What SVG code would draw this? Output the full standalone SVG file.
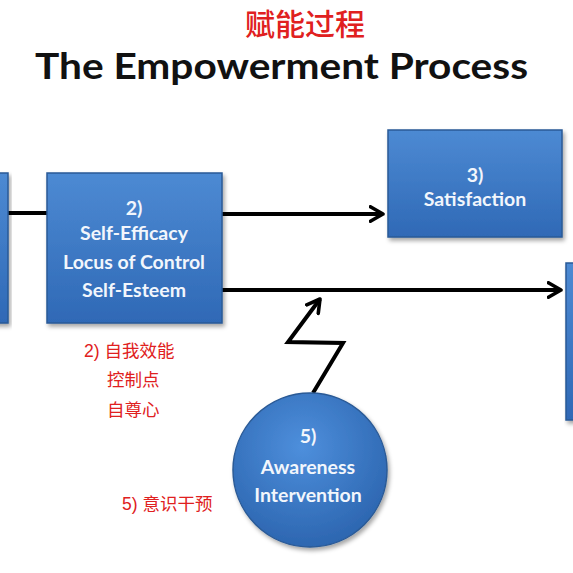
<svg xmlns="http://www.w3.org/2000/svg" width="573" height="573" viewBox="0 0 573 573">
<style>
.box{fill:url(#bg);stroke:#2a5a96;stroke-width:1.5;filter:url(#sh)}
.wt{font-family:Lato,"Open Sans","Liberation Sans",sans-serif;font-weight:bold;font-size:19.5px;fill:#f2f6fc;text-anchor:middle}
.red{font-family:"Liberation Sans","Noto Sans CJK SC",sans-serif;font-size:17.5px;fill:#e02020}
.ln{fill:none;stroke:#000;stroke-width:4}
</style>
<defs>
<linearGradient id="bg" x1="0" y1="0" x2="0" y2="1">
<stop offset="0" stop-color="#4d8ad3"/>
<stop offset="1" stop-color="#2f69b6"/>
</linearGradient>
<radialGradient id="cg" cx="0.45" cy="0.35" r="0.7">
<stop offset="0" stop-color="#4e8fdc"/>
<stop offset="1" stop-color="#2a63ad"/>
</radialGradient>
<filter id="sh" x="-10%" y="-10%" width="130%" height="130%">
<feDropShadow dx="2" dy="3" stdDeviation="2" flood-color="#000" flood-opacity="0.35"/>
</filter>
<marker id="ah" viewBox="0 0 10 10" refX="8" refY="5" markerWidth="4.5" markerHeight="4.5" markerUnits="strokeWidth" orient="auto">
<path d="M1,1 L8,5 L1,9" fill="none" stroke="#000" stroke-width="2" stroke-linecap="round" stroke-linejoin="round"/>
</marker>
</defs>
<rect width="573" height="573" fill="#fff"/>
<text x="305" y="35" text-anchor="middle" font-family="'Noto Sans CJK SC',sans-serif" font-weight="500" font-size="30" fill="#e02020">赋能过程</text>
<text x="35" y="79" textLength="493" lengthAdjust="spacingAndGlyphs" font-family="Lato,'Open Sans','Liberation Sans',sans-serif" font-weight="bold" font-size="37" fill="#111">The Empowerment Process</text>
<g id="connectors">
<line class="ln" x1="8" y1="213" x2="47" y2="213"/>
<line class="ln" x1="222" y1="214" x2="383" y2="214" marker-end="url(#ah)"/>
<line class="ln" x1="222" y1="290" x2="561" y2="290" marker-end="url(#ah)"/>
<polyline class="ln" points="313,393 343,343 288,342 320,299" marker-end="url(#ah)"/>
</g>
<g id="node1"><rect class="box" x="-10" y="173" width="18" height="150"/></g>
<g id="node2">
<rect class="box" x="47" y="173" width="175" height="150"/>
<text class="wt" x="134" y="215">2)</text>
<text class="wt" x="134" y="240">Self-Efficacy</text>
<text class="wt" x="134" y="269">Locus of Control</text>
<text class="wt" x="134" y="297">Self-Esteem</text>
</g>
<g id="node3">
<rect class="box" x="388" y="130" width="174" height="107"/>
<text class="wt" x="475" y="182">3)</text>
<text class="wt" x="475" y="206">Satisfaction</text>
</g>
<g id="node4"><rect class="box" x="566" y="263" width="20" height="157"/></g>
<g id="node5">
<circle cx="310" cy="470" r="77" fill="url(#cg)" stroke="#2a5a96" stroke-width="1.5" filter="url(#sh)"/>
<text class="wt" x="308" y="443">5)</text>
<text class="wt" x="308" y="474">Awareness</text>
<text class="wt" x="308" y="502">Intervention</text>
</g>
<g id="labels">
<text class="red" x="84" y="357">2) 自我效能</text>
<text class="red" x="107" y="386">控制点</text>
<text class="red" x="107" y="416">自尊心</text>
<text class="red" x="122" y="510">5) 意识干预</text>
</g>
</svg>
